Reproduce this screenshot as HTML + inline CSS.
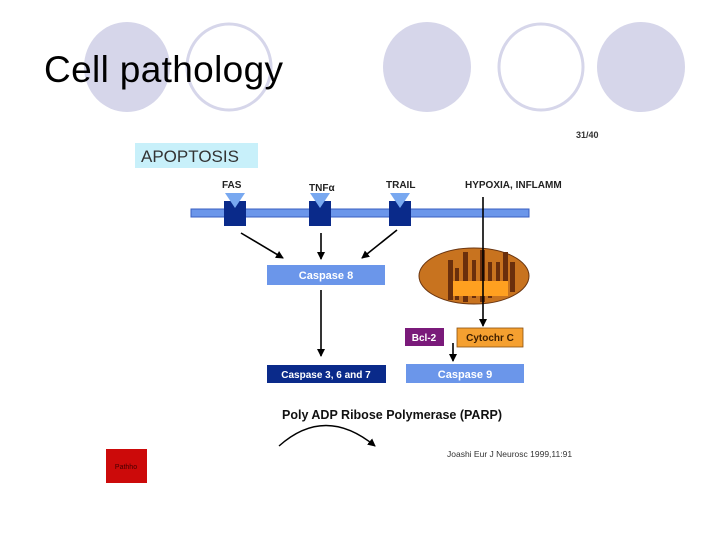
<!DOCTYPE html>
<html><head><style>
body{margin:0;width:720px;height:540px;background:#fff;overflow:hidden;position:relative;font-family:"Liberation Sans",sans-serif}
.a{position:absolute}
</style></head><body>
<svg class="a" style="left:0;top:0" width="720" height="540">
<g fill="#d6d6ea">
<ellipse cx="127" cy="67" rx="43" ry="45"/>
<ellipse cx="427" cy="67" rx="44" ry="45"/>
<ellipse cx="641" cy="67" rx="44" ry="45"/>
</g>
<g fill="none" stroke="#d6d6ea" stroke-width="3">
<ellipse cx="229" cy="67" rx="42" ry="43"/>
<ellipse cx="541" cy="67" rx="42" ry="43"/>
</g>
<text x="44" y="82" font-size="37" fill="#000" font-family="Liberation Sans,sans-serif" textLength="239">Cell pathology</text>
<text x="576" y="138" font-size="9" font-weight="bold" fill="#333">31/40</text>
<rect x="135" y="143" width="123" height="25" fill="#c8f0fa"/>
<text x="141" y="162" font-size="17" fill="#333">APOPTOSIS</text>
<g font-size="10" font-weight="bold" fill="#222">
<text x="222" y="188">FAS</text>
<text x="309" y="191">TNFα</text>
<text x="386" y="188">TRAIL</text>
<text x="465" y="188">HYPOXIA, INFLAMM</text>
</g>
<rect x="191" y="209" width="338" height="8" fill="#6b96ea" stroke="#3a5fc0" stroke-width="1"/>
<g fill="#0a2a8a">
<rect x="224" y="201" width="22" height="25"/>
<rect x="309" y="201" width="22" height="25"/>
<rect x="389" y="201" width="22" height="25"/>
</g>
<g fill="#78a8f0">
<polygon points="225,193 245,193 235,208"/>
<polygon points="310,193 330,193 320,208"/>
<polygon points="390,193 410,193 400,208"/>
</g>
<defs><marker id="m" markerWidth="8" markerHeight="8" refX="7" refY="4" orient="auto" markerUnits="userSpaceOnUse"><path d="M0,0L8,4L0,8z" fill="#000"/></marker></defs>
<g stroke="#000" stroke-width="1.6" marker-end="url(#m)">
<line x1="241" y1="233" x2="283" y2="258"/>
<line x1="321" y1="233" x2="321" y2="259"/>
<line x1="397" y1="230" x2="362" y2="258"/>
<line x1="321" y1="290" x2="321" y2="356"/>
<line x1="453" y1="343" x2="453" y2="361"/>
</g>
<rect x="267" y="265" width="118" height="20" fill="#6b96ea"/>
<text x="326" y="279" font-size="11" font-weight="bold" fill="#fff" text-anchor="middle">Caspase 8</text>
<ellipse cx="474" cy="276" rx="55" ry="28" fill="#c8731f" stroke="#6a3510" stroke-width="1"/>
<g fill="#6a2f0c">
<rect x="448" y="260" width="5" height="40"/><rect x="455" y="268" width="4" height="32"/>
<rect x="463" y="252" width="5" height="50"/><rect x="472" y="260" width="4" height="38"/>
<rect x="480" y="250" width="5" height="52"/><rect x="488" y="262" width="4" height="36"/>
<rect x="496" y="262" width="4" height="34"/><rect x="503" y="252" width="5" height="40"/>
<rect x="510" y="262" width="5" height="30"/>
</g>
<rect x="453" y="281" width="55" height="15" fill="#ffa020"/>
<line x1="483" y1="197" x2="483" y2="326" stroke="#000" stroke-width="1.6" marker-end="url(#m)"/>
<rect x="405" y="328" width="39" height="18" fill="#7a1a7a"/>
<text x="424" y="341" font-size="10" font-weight="bold" fill="#fff" text-anchor="middle">Bcl-2</text>
<rect x="457" y="328" width="66" height="19" fill="#f5a030" stroke="#8a5010" stroke-width="0.8"/>
<text x="490" y="341" font-size="10" font-weight="bold" fill="#402000" text-anchor="middle">Cytochr C</text>
<rect x="267" y="365" width="119" height="18" fill="#0a2a8a"/>
<text x="326" y="378" font-size="10" font-weight="bold" fill="#fff" text-anchor="middle">Caspase 3, 6 and 7</text>
<rect x="406" y="364" width="118" height="19" fill="#6b96ea"/>
<text x="465" y="378" font-size="11" font-weight="bold" fill="#fff" text-anchor="middle">Caspase 9</text>
<text x="392" y="419" font-size="12.5" font-weight="bold" fill="#111" text-anchor="middle">Poly ADP Ribose Polymerase (PARP)</text>
<path d="M279,446 Q325,405 375,446" fill="none" stroke="#000" stroke-width="1.4" marker-end="url(#m)"/>
<text x="447" y="457" font-size="8.5" fill="#333">Joashi Eur J Neurosc 1999,11:91</text>
<rect x="106" y="449" width="41" height="34" fill="#cc0a0a"/>
<text x="126" y="469" font-size="7" fill="#400" text-anchor="middle">Pathho</text>
</svg>
</body></html>
